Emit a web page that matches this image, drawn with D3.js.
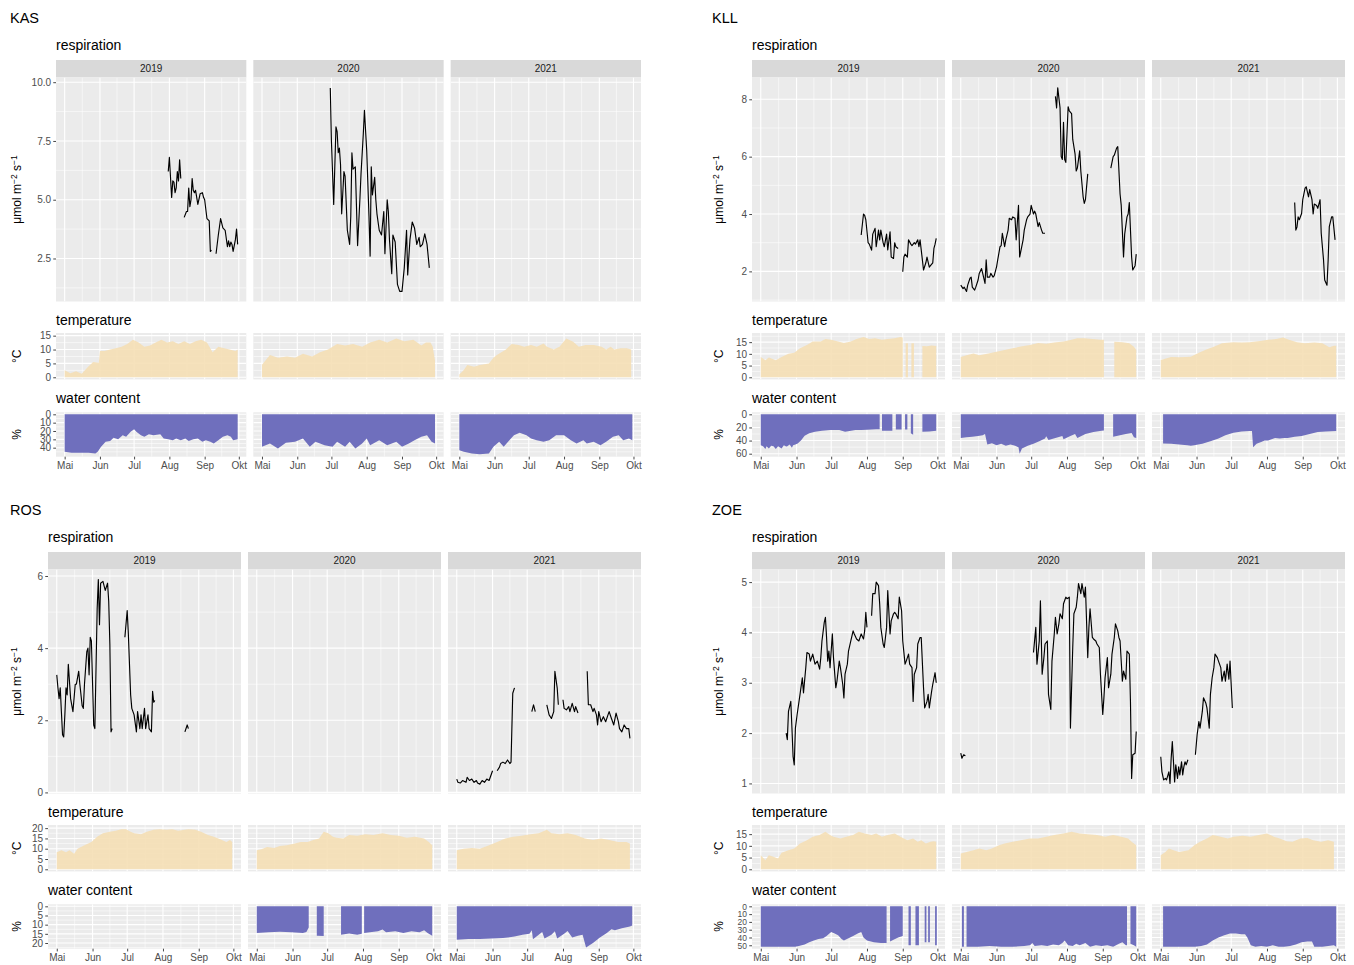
<!DOCTYPE html>
<html><head><meta charset="utf-8">
<script src="https://cdn.jsdelivr.net/npm/d3@7"></script>
<style>
body{margin:0;background:#fff}
svg{display:block}
text{font-family:"Liberation Sans",Arial,Helvetica,sans-serif}
</style>
</head><body>
<svg id="chart" width="1354" height="965"></svg>
<script>
// ---------------- DATA ----------------
// x values are days since 1 May of the facet year; [day, null] marks a gap
const sites = ["KAS","KLL","ROS","ZOE"];
const years = [2019, 2020, 2021];
const monthLabels = ["Mai","Jun","Jul","Aug","Sep","Okt"];
const panelTitles = ["respiration","temperature","water content"];

const kasRespTicks = [2.5,5,7.5,10];
const kllRespTicks = [2,4,6,8];
const rosRespTicks = [0,2,4,6];
const zoeRespTicks = [1,2,3,4,5];
const kasTempTicks = [0,5,10,15];
const kllTempTicks = [0,5,10,15];
const rosTempTicks = [0,5,10,15,20];
const zoeTempTicks = [0,5,10,15];
const kasWaterTicks = [0,10,20,30,40];
const kllWaterTicks = [0,20,40,60];
const rosWaterTicks = [0,5,10,15,20];
const zoeWaterTicks = [0,10,20,30,40,50];

// ---- KAS ----
const kasResp2019 = [[91,6.2],[92,6.8],[94,5.1],[95,5.8],[96,5.75],[97,5.3],[98,5.5],[99,6.2],[100,5.8],[101,6.7],[102,5.9],[103,null],
 [105,4.25],[107,4.5],[108,4.5],[109,5.5],[110,4.7],[111,5.0],[112,5.9],[113,5.4],[114,5.3],[115,5.4],[117,4.8],[119,5.25],[121,5.3],[122,5.1],[123,5.0],[125,4.2],[127,4.1],[128,2.8],[129,2.85],[131,null],
 [133,2.7],[135,3.5],[137,4.2],[139,3.8],[141,3.7],[143,3.0],[144,3.25],[145,3.0],[146,3.2],[147,3.1],[148,2.8],[150,3.3],[151,3.75],[152,3.1]];
const kasResp2020 = [[60,9.75],[61,7.5],[63,4.8],[65,8.1],[66,7.9],[67,7.0],[68,7.2],[69,6.5],[70,4.4],[72,6.2],[73,6.0],[75,3.7],[77,3.1],[78,4.3],[79,7.0],[80,6.3],[82,6.4],[84,3.05],[86,5.0],[87,6.1],[89,7.8],[90,8.8],[92,7.1],[94,4.3],[95,2.6],[96,6.4],[97,5.2],[99,5.95],[100,5.0],[101,4.4],[103,3.7],[105,3.5],[107,4.5],[108,2.7],[110,5.0],[111,4.5],[112,3.3],[114,1.85],[115,3.5],[117,3.2],[119,1.4],[121,1.1],[123,1.1],[125,2.1],[127,3.7],[128,1.8],[130,3.3],[132,4.05],[134,3.8],[136,3.1],[138,3.4],[139,3.0],[141,3.1],[143,3.55],[145,3.1],[147,2.1]];
const kasResp2021 = [];
const kasTemp2019 = [[0,2.5],[5,1.5],[10,2.2],[15,1.3],[20,3.5],[25,5.5],[30,5.2],[31,9.5],[35,9.5],[40,10],[45,10.5],[50,11],[55,12],[60,13.5],[65,12.5],[70,11],[75,11.5],[80,12.5],[85,13.5],[90,12.5],[95,13],[100,12],[105,13],[110,12],[115,13],[120,13.5],[125,12.5],[130,9],[135,11],[140,10.5],[145,10],[150,9.5],[152,10]];
const kasTemp2020 = [[0,4.5],[7,8],[14,7],[22,7.5],[29,7],[36,8.5],[44,7.5],[51,9],[58,10],[66,12],[73,11.5],[80,12],[88,11],[95,12.5],[103,13.5],[110,12.5],[118,14],[125,13],[133,13.5],[140,11.5],[144,12.5],[148,12.5],[150,11],[152,6]];
const kasTemp2021 = [[0,1],[4,2.6],[7,4.4],[13,3.8],[18,4.4],[26,5],[30,7],[33,8],[41,10],[46,12],[52,11.6],[57,11],[63,11.6],[68,11],[74,12.2],[77,11],[83,10],[88,11],[94,14],[100,12.8],[105,11],[111,11.6],[118,11.6],[125,11],[129,10],[133,11],[136,10],[142,10.5],[147,10.5],[151,10]];
const kasWater2019 = [[0,45],[6,46],[14,46],[21,46],[27,47],[29,45],[32,39],[36,33],[40,32],[43,28],[47,30],[51,25],[54,27],[58,21],[61,18],[63,21],[67,25],[70,27],[74,24],[78,25],[84,24],[87,29],[91,30],[95,31],[98,29],[102,31],[106,29],[109,32],[113,30],[117,29],[121,33],[124,31],[128,33],[131,35],[135,31],[139,27],[143,25],[146,27],[148,31],[152,30]];
const kasWater2020 = [[0,39],[7,35],[14,41],[21,34],[29,33],[36,29],[42,39],[47,33],[55,37],[62,39],[66,33],[73,39],[77,33],[82,41],[88,35],[92,29],[95,37],[103,31],[110,37],[118,33],[123,39],[129,35],[134,31],[140,27],[145,25],[149,33],[152,35]];
const kasWater2021 = [[0,43],[4,45],[11,47],[18,48],[26,47],[30,39],[35,33],[39,39],[44,31],[48,25],[53,22],[59,25],[63,29],[68,31],[74,33],[79,31],[85,25],[92,25],[98,31],[103,35],[109,31],[112,35],[118,33],[124,37],[129,33],[135,27],[140,25],[144,31],[149,29],[152,31]];

// ---- KLL ----
const kllResp2019 = [[87,3.27],[89,4.0],[90,3.95],[91,3.8],[93,3.0],[94,2.95],[96,2.74],[97,3.3],[99,3.5],[100,2.86],[102,3.44],[103,3.1],[104,3.44],[106,3.0],[107,2.86],[109,3.3],[110,2.75],[112,3.38],[113,2.5],[115,2.45],[116,3.0],[117,2.86],[119,2.8],[120,null],
 [123,1.99],[124,2.5],[125,2.6],[127,2.5],[128,3.1],[130,2.95],[131,2.9],[133,3.0],[134,2.95],[136,3.1],[137,2.86],[138,3.1],[140,2.4],[141,2.05],[143,2.3],[144,2.5],[146,2.15],[147,2.2],[149,2.3],[150,2.8],[151,2.95],[152,3.15]];
const kllResp2020 = [[0,1.52],[2,1.4],[3,1.45],[5,1.3],[6,1.52],[8,1.76],[9,1.8],[10,1.45],[12,1.35],[13,1.45],[15,1.7],[16,1.93],[18,2.1],[19,1.93],[21,1.58],[22,2.4],[23,1.8],[25,1.8],[26,1.93],[28,1.8],[29,1.85],[31,2.16],[32,2.4],[34,2.86],[35,2.9],[36,3.33],[38,2.86],[39,3.1],[41,3.44],[42,3.85],[44,3.8],[45,3.9],[47,3.85],[48,3.1],[50,4.3],[51,2.5],[52,2.7],[54,3.1],[55,3.44],[57,3.8],[58,3.9],[60,4.0],[61,4.3],[63,4.0],[64,4.1],[65,4.0],[67,3.56],[68,3.7],[70,3.44],[71,3.33],[73,3.33],[74,null],
 [82,8.1],[83,7.7],[84,8.4],[86,7.7],[87,6.0],[88,5.9],[89,7.2],[90,5.9],[91,5.8],[93,7.74],[94,7.6],[96,7.5],[97,6.6],[99,6.1],[100,5.5],[101,5.6],[103,6.2],[104,5.5],[106,4.6],[107,4.37],[108,4.5],[110,5.4],[111,null],
 [130,5.6],[132,6.0],[133,6.05],[135,6.3],[136,6.35],[138,4.7],[139,4.3],[141,2.5],[142,3.3],[144,3.9],[145,4.0],[146,4.4],[148,2.5],[149,2.05],[151,2.2],[152,2.6]];
const kllResp2021 = [[116,4.4],[117,3.44],[118,3.55],[119,3.9],[120,3.8],[122,4.02],[123,4.5],[125,4.9],[126,4.95],[128,4.6],[129,4.85],[131,4.5],[132,4.0],[133,4.35],[135,4.3],[136,4.2],[138,4.5],[139,3.33],[141,2.4],[142,1.7],[144,1.52],[145,2.4],[146,3.56],[148,3.9],[149,3.9],[151,3.1]];
const kllTemp2019 = [[0,8.7],[4,7.3],[7,8.4],[13,7.3],[18,8.7],[24,10],[29,10.5],[34,12.4],[40,13.8],[45,15.3],[52,15.3],[56,16.3],[61,16],[67,15.3],[72,14.6],[78,15.3],[83,16.3],[89,17.2],[94,16.3],[99,16.7],[105,16],[110,16.3],[116,16.7],[121,17.2],[123,17],[123.5,null],[125.5,14.5],[127.5,14.5],[128,null],[130.5,14.5],[132.7,14.5],[133,null],[140,13.4],[144,13.2],[148,13.6],[152,13.4]];
const kllTemp2020 = [[0,8.7],[5,9.4],[11,10.2],[16,9.4],[24,10.2],[31,10.9],[38,11.6],[45,12.4],[52,13.1],[60,13.8],[67,14.6],[74,14.3],[81,14.8],[89,15.3],[96,16],[101,16.7],[107,16.7],[114,16.3],[121,16],[124,16],[125,null],[133,15.2],[140,15],[146,14.5],[150,13],[152,11.6]];
const kllTemp2021 = [[0,7.4],[9,8.7],[16,8.5],[26,8.8],[33,10.5],[40,12],[46,13],[53,14.5],[63,15],[70,14.8],[77,15],[86,15.5],[93,16],[100,16.3],[106,17],[111,16],[118,15],[125,14.5],[133,14.8],[140,14.5],[146,12.8],[150,13.5],[152,13.5]];
const kllWater2019 = [[0,47],[2,48.5],[4,53],[5,48.5],[7,52],[9,48],[11,48.5],[13,53],[15,48.5],[17,51],[18,52],[20,47],[22,49],[23,48.5],[25,46],[27,50.8],[28,47],[30,46],[32,44.6],[35,39.5],[38,32.8],[42,29],[47,26.7],[53,25],[60,24],[63,24],[68,24],[73,26.7],[77,25.6],[82,24],[87,24],[92,23.5],[100,22.6],[103,22.6],[104,null],[105,25],[114,25],[115,null],[117,23],[122,23],[123,null],[125,23],[127,23],[128,null],[130,29],[132,31],[133,null],[140,26.7],[146,26],[152,25]];
const kllWater2020 = [[0,36],[5,35],[10,34],[15,33],[19,32],[21,30],[23,46],[27,44],[31,47],[35,45],[39,48],[43,46],[47,48],[50,50],[51,60],[53,52],[58,48],[63,45],[68,41],[73,37],[74,33.5],[76,39],[82,36],[88,33],[89,38],[95,33],[99,30],[101,36],[108,30],[115,27],[122,25],[124,24.5],[125,null],[132,34],[135,33],[143,30],[148,28.5],[150,35],[152,36]];
const kllWater2021 = [[2,44.5],[9,45],[16,46],[23,47],[26,48],[29,47],[36,45],[43,41],[50,37],[56,32],[63,28],[70,26],[77,25.5],[79,25.5],[80,50],[83,45],[87,42],[90,40],[93,40],[96,38],[99,36],[103,37],[107,36],[110,36],[116,34],[122,33],[129,30],[136,27],[143,26],[152,25.5]];

// ---- ROS ----
const rosResp2019 = [[0,3.26],[1,2.9],[2,2.6],[3,2.9],[4,2.24],[5,1.6],[6,1.54],[7,2.15],[8,2.9],[9,2.7],[10,3.55],[12,2.6],[14,2.24],[16,3.0],[17,3.0],[19,3.36],[20,3.0],[22,2.4],[23,2.33],[24,3.0],[26,3.9],[27,4.0],[28,3.26],[29,4.3],[30,4.2],[32,1.87],[33,1.77],[35,5.1],[36,5.9],[37,4.65],[38,5.8],[40,5.85],[42,5.6],[44,5.8],[45,5.3],[46,4.1],[47,1.68],[48,1.77],[50,null],
 [59,4.3],[61,5.04],[62,4.4],[64,2.7],[65,2.33],[67,2.15],[69,1.68],[70,2.24],[72,1.77],[73,2.15],[74,1.77],[76,2.33],[77,1.77],[79,2.15],[80,1.77],[82,1.68],[83,2.8],[84,2.5],[85,2.55],[86,null],
 [111,1.68],[113,1.87],[114,1.77]];
const rosResp2020 = [];
const rosResp2021 = [[0,0.37],[1,0.28],[3,0.26],[5,0.33],[8,0.28],[9,0.42],[11,0.33],[13,0.37],[15,0.28],[17,0.33],[18,0.26],[20,0.23],[22,0.33],[24,0.28],[26,0.37],[28,0.33],[29,0.42],[31,0.6],[32,null],
 [35,0.6],[37,0.7],[38,0.8],[40,0.84],[42,0.8],[44,0.9],[46,0.8],[47,0.84],[48.5,2.75],[50,2.9],[51,null],
 [65,2.24],[66.5,2.43],[68,2.24],[69,null],
 [78,2.43],[80,2.15],[82,2.05],[84,2.24],[85,3.36],[87,2.9],[88,2.43],[89,null],
 [92,2.57],[93,2.33],[95,2.29],[97,2.38],[98,2.24],[100,2.47],[102,2.24],[103,2.38],[105,2.2],[106,null],
 [113,3.36],[114,2.43],[116,2.43],[118,2.24],[119,2.33],[121,2.15],[122,1.87],[123,2.24],[125,1.96],[127,2.1],[129,1.96],[131,2.15],[132,2.24],[134,2.05],[136,1.87],[138,2.2],[140,1.96],[141,1.77],[143,1.68],[145,1.87],[147,1.77],[149,1.77],[150,1.5]];
const rosTemp2019 = [[0,8.3],[4,9.2],[8,8.3],[11,9.2],[15,7.5],[18,10],[24,11.7],[30,13.3],[35,15.8],[40,17.5],[46,18.3],[51,18.7],[56,19.5],[60,19.5],[64,18.3],[67,17.5],[73,17],[78,18.3],[84,19.2],[89,19.5],[95,19.2],[100,19.5],[105,18.7],[111,19.2],[114,19.5],[120,19.2],[125,18.3],[131,16.7],[136,15.8],[140,15],[143,14.2],[147,13.3],[150,14.2],[152,13.3]];
const rosTemp2020 = [[0,9.2],[4,9.7],[9,10.8],[15,10.3],[20,11.3],[26,11.7],[33,12.5],[38,13.3],[44,13.3],[49,14.2],[54,15],[58,18.3],[62,17.5],[66,15.8],[69,15.3],[75,15],[80,16.7],[87,16.3],[94,17],[101,16.7],[109,17.5],[116,16.7],[123,16.3],[130,15.3],[137,15.8],[145,15],[149,13.3],[152,11.7]];
const rosTemp2021 = [[0,9.2],[6,10],[13,10.3],[20,10],[28,11.7],[35,13.3],[42,15],[49,15.8],[56,16.3],[64,17],[71,17.5],[78,19.2],[82,17.5],[89,17],[96,17.5],[103,16.7],[111,15],[118,14.2],[125,15],[132,14.2],[140,13.3],[147,13.3],[150,12.5]];
const rosWater2019 = [];
const rosWater2020 = [[0,14.5],[10,14.2],[20,13.8],[30,14.2],[40,14.5],[43,14],[45,11.5],[46,null],[52,16],[58,16.2],[59,null],[73,15.5],[80,14.8],[87,15.5],[91,15],[92,null],[93,14.5],[98,14.2],[105,13.6],[109,12.7],[112,14.2],[120,13.6],[127,14.5],[134,13.6],[141,14.2],[145,13],[148,14.5],[152,16]];
const rosWater2021 = [[0,18.2],[10,17.8],[20,17.8],[30,17.5],[40,17.3],[50,16.5],[57,15.5],[63,15],[65,13],[66,18],[71,15.5],[74,14],[76,17.5],[82,15.5],[85,13.6],[87,17.5],[93,15],[96,13.5],[100,17],[105,16],[109,15.5],[112,22.5],[118,20],[124,17],[130,14.5],[134,12.5],[137,13],[143,12],[150,11],[152,10.5]];

// ---- ZOE ----
const zoeResp2019 = [[22,2.0],[23,1.87],[24,2.43],[26,2.63],[27,2.1],[28,1.53],[29,1.37],[30,2.1],[31.5,2.37],[34,2.77],[36,3.1],[37,2.8],[39,3.3],[40,3.6],[42,3.57],[43,3.43],[45,3.57],[47,3.37],[49,3.43],[51,3.27],[52,3.5],[53,3.83],[55,4.2],[56,4.3],[57,3.9],[58,3.43],[59,3.63],[60,3.3],[62,3.97],[63,3.5],[65,2.9],[66,3.03],[68,3.43],[69,3.3],[71,2.97],[72,2.7],[73,3.17],[75,3.37],[76,3.63],[78,3.83],[80,4.03],[81,3.97],[83,3.87],[85,3.83],[87,3.97],[89,3.87],[90,4.03],[91,4.4],[92,4.1],[93,null],
 [96,4.33],[97,4.77],[99,4.77],[100,5.0],[102,4.93],[103,4.57],[104,4.1],[106,3.77],[107,3.7],[109,4.1],[110,4.83],[112,3.97],[113,4.23],[115,4.37],[116,4.4],[117,4.37],[119,4.27],[120,4.7],[122,4.43],[123,3.83],[125,3.37],[126,3.43],[128,3.57],[129,3.37],[131,3.3],[132,2.63],[133,3.17],[135,3.3],[136,3.77],[138,3.9],[139,3.9],[141,2.9],[142,2.5],[144,2.63],[145,2.77],[146,2.5],[148,2.83],[149,2.97],[151,3.2],[152,3.0]];
const zoeResp2020 = [[0,1.6],[1,1.5],[2.5,1.57],[4,1.55],[5,null],
 [63,3.6],[65,4.1],[66,3.37],[68,3.83],[69,4.63],[70.5,3.17],[72,3.5],[73,3.77],[75,3.83],[76,2.77],[78,2.47],[79,3.43],[81,3.97],[82,4.3],[83.5,3.97],[85,4.17],[86,4.37],[88,4.27],[89,4.57],[91,4.7],[92,4.67],[94,4.7],[95,2.1],[97,3.7],[98,4.37],[100,4.5],[101,4.7],[102,4.97],[104,4.77],[105,4.97],[107,4.7],[108,4.9],[110,3.5],[111,4.1],[112,4.47],[114,3.9],[115,3.87],[117,3.83],[118,3.77],[120,3.7],[121,3.17],[123,2.37],[124,2.7],[125,3.1],[127,3.5],[128,2.9],[130,3.17],[131,3.57],[133,3.9],[134,4.17],[136,4.03],[137,3.9],[138,3.83],[140,3.03],[141,3.23],[143,3.07],[144,3.63],[146,3.57],[147,2.63],[148,1.1],[149,1.57],[151,1.6],[152,2.03]];
const zoeResp2021 = [[0,1.53],[1,1.23],[2.5,1.07],[4,1.1],[5,1.07],[7,1.23],[8,1.0],[9,1.5],[10,1.83],[11,1.43],[12,1.03],[13,1.37],[14.5,1.1],[15.5,1.33],[16.5,1.17],[18,1.43],[19,1.17],[20,1.33],[21,1.43],[22,1.37],[23.5,1.47],[24,null],
 [30,1.57],[31.5,1.97],[33,2.23],[34,2.1],[36,2.43],[37,2.7],[39,2.6],[40,2.5],[42,2.1],[43,2.77],[44.5,3.1],[46,3.3],[47,3.57],[49,3.5],[50,3.43],[52,3.3],[53,3.03],[55,3.23],[56,3.03],[57.5,3.37],[59,3.07],[60,3.43],[62,2.5]];
const zoeTemp2019 = [[0,6],[4,3.9],[7,6],[11,5.3],[15,4.6],[18,7.1],[24,8.1],[29,8.9],[34,11],[40,12.4],[45,13.9],[51,14.6],[56,16],[60,14.6],[63,13.9],[69,13.1],[74,13.9],[80,14.6],[85,16],[90,15.3],[96,14.6],[100,15.3],[105,13.9],[110,14.6],[116,15.3],[121,13.9],[127,12.4],[132,13.1],[136,11.7],[139,12.4],[143,11],[147,11.7],[150,12],[152,11.7]];
const zoeTemp2020 = [[0,6.7],[5,7.4],[11,8.1],[16,8.9],[22,8.1],[27,8.9],[33,10.3],[38,11],[45,11.7],[52,12.4],[60,13.1],[67,13.1],[74,13.9],[81,14.6],[89,15.3],[96,16],[103,15.3],[110,14.9],[118,14.6],[125,13.9],[132,14.6],[139,13.9],[145,13.1],[148,11.7],[152,10.3]];
const zoeTemp2021 = [[0,6],[4,7.4],[7,8.9],[11,8.1],[16,7.4],[24,8.1],[29,10.3],[34,11.7],[40,13.1],[45,14.6],[52,13.9],[58,13.1],[63,13.9],[71,14.3],[78,13.9],[85,14.6],[92,15.3],[98,13.9],[103,13.1],[109,12],[114,11.7],[121,13.1],[127,13.3],[132,12.4],[139,11.7],[145,12.4],[150,11.7]];
const zoeWater2019 = [[0,52],[10,52],[20,52],[30,52],[33,51],[38,49],[42,46],[46,44],[50,42],[54,41],[57,38],[61,33],[64,35],[67,37],[70,42],[72,44],[76,41],[80,38],[84,35],[87,33],[89,40],[92,44],[98,46],[104,47],[109,47],[110,null],[112,45],[115,43],[119,40],[123,38],[124,null],[128,50],[130,50],[131,null],[134,50],[137,50],[138,null],[142,46],[143.5,46],[144,null],[145,46],[146.5,46],[147,null],[151,50],[152.5,50]];
const zoeWater2020 = [[1,52],[2.7,52],[3,null],[5,52],[15,52],[25,51],[35,52],[45,52],[55,51],[60,50],[62,47],[64,51],[70,50],[75,51],[80,49],[85,50],[88,47],[90,44],[93,50],[97,51],[100,48],[103,50],[108,47],[112,52],[117,50],[122,51],[127,50],[132,52],[137,48],[140,46],[143,50],[144,50],[145,null],[147,48],[150,50],[152,52]];
const zoeWater2021 = [[2,52],[10,52],[20,52],[30,52],[35,51],[40,49],[45,44],[50,40],[55,37],[60,35],[65,35],[70,36],[73,36],[75,40],[78,50],[82,52],[87,51],[92,52],[97,50],[102,52],[107,52],[112,51],[117,49],[122,46],[127,45],[131,45],[133,52],[140,52],[145,51],[150,50],[152,52]];

// ---------------- CONFIG ----------------
const respData = {KAS:[kasResp2019,kasResp2020,kasResp2021], KLL:[kllResp2019,kllResp2020,kllResp2021], ROS:[rosResp2019,rosResp2020,rosResp2021], ZOE:[zoeResp2019,zoeResp2020,zoeResp2021]};
const tempData = {KAS:[kasTemp2019,kasTemp2020,kasTemp2021], KLL:[kllTemp2019,kllTemp2020,kllTemp2021], ROS:[rosTemp2019,rosTemp2020,rosTemp2021], ZOE:[zoeTemp2019,zoeTemp2020,zoeTemp2021]};
const waterData = {KAS:[kasWater2019,kasWater2020,kasWater2021], KLL:[kllWater2019,kllWater2020,kllWater2021], ROS:[rosWater2019,rosWater2020,rosWater2021], ZOE:[zoeWater2019,zoeWater2020,zoeWater2021]};
const respTicks = {KAS:kasRespTicks, KLL:kllRespTicks, ROS:rosRespTicks, ZOE:zoeRespTicks};
const tempTicks = {KAS:kasTempTicks, KLL:kllTempTicks, ROS:rosTempTicks, ZOE:zoeTempTicks};
const waterTicks = {KAS:kasWaterTicks, KLL:kllWaterTicks, ROS:rosWaterTicks, ZOE:zoeWaterTicks};

const respDomain = {KAS:[0.67,10.2], KLL:[0.95,8.76], ROS:[-0.03,6.18], ZOE:[0.8,5.25]};
const tempMax = {KAS:15.2, KLL:18, ROS:20.5, ZOE:18};
const waterMax = {KAS:48.4, KLL:61.5, ROS:22, ZOE:51.8};

const layout = {
  KAS:{oy:0,   titleX:10,  axX:17,  left:56,  width:190.33, gap:7},
  KLL:{oy:0,   titleX:712, axX:719, left:752, width:193,    gap:7},
  ROS:{oy:492, titleX:10,  axX:17,  left:48,  width:193,    gap:7},
  ZOE:{oy:492, titleX:712, axX:719, left:752, width:193,    gap:7}
};
const rows = {title:23, respLabel:50, strip:[60,77.5], resp:[77.5,301.5], tempLabel:325, temp:[333,379.4], waterLabel:403, water:[412.3,456.7]};

const C = {panel:"#EBEBEB", strip:"#D9D9D9", grid:"#FFFFFF", tick:"#333333", tickText:"#4D4D4D", text:"#1A1A1A", temp:"#F5DEB3", water:"#6F6FBD"};
const tickFont = "10px";

// ---------------- DRAW ----------------
const svg = d3.select("#chart");
const toDate = (yr, d) => new Date(Date.UTC(yr, 4, 1) + d * 864e5);
let clipId = 0;

function minorsOf(ticks, domain){
  const s = ticks[1] - ticks[0];
  const lo = Math.min(domain[0], domain[1]), hi = Math.max(domain[0], domain[1]);
  const out = [];
  for (let v = ticks[0] - s/2; v <= hi; v += s) if (v >= lo) out.push(v);
  return out;
}

function drawPanel(g, x, y, top, bottom, yTicks, monthTicks){
  const [x0, x1] = x.range();
  const id = "clip" + (clipId++);
  g.append("clipPath").attr("id", id).append("rect").attr("x", x0).attr("y", top).attr("width", x1 - x0).attr("height", bottom - top);
  g.append("rect").attr("x", x0).attr("y", top).attr("width", x1 - x0).attr("height", bottom - top).attr("fill", C.panel);
  const grid = g.append("g").attr("clip-path", `url(#${id})`);
  const xMinor = d3.pairs(monthTicks).map(([a, b]) => new Date((+a + +b) / 2));
  const yMinor = minorsOf(yTicks, y.domain());
  grid.selectAll(".ymn").data(yMinor).join("line").attr("x1", x0).attr("x2", x1).attr("y1", d => y(d)).attr("y2", d => y(d)).attr("stroke", C.grid).attr("stroke-width", 0.55);
  grid.selectAll(".xmn").data(xMinor).join("line").attr("x1", d => x(d)).attr("x2", d => x(d)).attr("y1", top).attr("y2", bottom).attr("stroke", C.grid).attr("stroke-width", 0.55);
  grid.selectAll(".ymj").data(yTicks).join("line").attr("x1", x0).attr("x2", x1).attr("y1", d => y(d)).attr("y2", d => y(d)).attr("stroke", C.grid).attr("stroke-width", 1.1);
  grid.selectAll(".xmj").data(monthTicks).join("line").attr("x1", d => x(d)).attr("x2", d => x(d)).attr("y1", top).attr("y2", bottom).attr("stroke", C.grid).attr("stroke-width", 1.1);
  return g.append("g").attr("clip-path", `url(#${id})`);
}

function styleAxis(ax, fs){
  ax.select(".domain").remove();
  ax.selectAll(".tick line").attr("stroke", C.tick).attr("stroke-width", 0.9);
  ax.selectAll(".tick text").attr("fill", C.tickText).attr("font-size", fs || tickFont).attr("font-family", '"Liberation Sans",Arial,sans-serif');
  ax.attr("font-size", null).attr("font-family", null);
}

function drawSite(site){
  const L = layout[site];
  const g = svg.append("g").attr("transform", `translate(0,${L.oy})`);
  g.append("text").attr("x", L.titleX).attr("y", rows.title).attr("font-size", "14.5px").attr("fill", "#000").text(site);
  g.append("text").attr("x", L.left).attr("y", rows.respLabel).attr("font-size", "14px").attr("fill", "#000").text(panelTitles[0]);
  g.append("text").attr("x", L.left).attr("y", rows.tempLabel).attr("font-size", "14px").attr("fill", "#000").text(panelTitles[1]);
  g.append("text").attr("x", L.left).attr("y", rows.waterLabel).attr("font-size", "14px").attr("fill", "#000").text(panelTitles[2]);

  const yResp = d3.scaleLinear().domain(respDomain[site]).range([rows.resp[1], rows.resp[0]]);
  const tM = tempMax[site];
  const yTemp = d3.scaleLinear().domain([-0.05 * tM, 1.05 * tM]).range([rows.temp[1], rows.temp[0]]);
  const wM = waterMax[site];
  const yWater = d3.scaleLinear().domain([-0.05 * wM, 1.05 * wM]).range([rows.water[0], rows.water[1]]); // reversed: 0 at top

  years.forEach((yr, i) => {
    const x0 = L.left + i * (L.width + L.gap), x1 = x0 + L.width;
    const x = d3.scaleUtc().domain([toDate(yr, -7.6), toDate(yr, 159.6)]).range([x0, x1]);
    const monthTicks = d3.utcMonth.range(toDate(yr, 0), toDate(yr, 154));

    // strip
    g.append("rect").attr("x", x0).attr("y", rows.strip[0]).attr("width", L.width).attr("height", rows.strip[1] - rows.strip[0]).attr("fill", C.strip);
    g.append("text").attr("x", (x0 + x1) / 2).attr("y", (rows.strip[0] + rows.strip[1]) / 2).attr("dy", "0.35em").attr("text-anchor", "middle").attr("font-size", "10px").attr("fill", C.text).text(yr);

    // respiration
    const pr = drawPanel(g, x, yResp, rows.resp[0], rows.resp[1], respTicks[site], monthTicks);
    const line = d3.line().defined(d => d[1] !== null).x(d => x(toDate(yr, d[0]))).y(d => yResp(d[1]));
    pr.append("path").datum(respData[site][i]).attr("d", line).attr("fill", "none").attr("stroke", "#000").attr("stroke-width", 1.15).attr("stroke-linejoin", "round");

    // temperature
    const pt = drawPanel(g, x, yTemp, rows.temp[0], rows.temp[1], tempTicks[site], monthTicks);
    const tArea = d3.area().defined(d => d[1] !== null).x(d => x(toDate(yr, d[0]))).y0(yTemp(0)).y1(d => yTemp(d[1]));
    pt.append("path").datum(tempData[site][i]).attr("d", tArea).attr("fill", C.temp).attr("fill-opacity", 0.88);

    // water content
    const pw = drawPanel(g, x, yWater, rows.water[0], rows.water[1], waterTicks[site], monthTicks);
    const wArea = d3.area().defined(d => d[1] !== null).x(d => x(toDate(yr, d[0]))).y0(yWater(0)).y1(d => yWater(d[1]));
    pw.append("path").datum(waterData[site][i]).attr("d", wArea).attr("fill", C.water);

    // x axis (bottom row only)
    const ax = g.append("g").attr("transform", `translate(0,${rows.water[1]})`)
      .call(d3.axisBottom(x).tickValues(monthTicks).tickFormat((d, k) => monthLabels[k]).tickSize(2.75).tickPadding(2));
    styleAxis(ax);

    if (i === 0) {
      const fmt = site === "KAS" ? d3.format(".1f") : d3.format("d");
      const crowded = waterTicks[site].length > 5;
      [[yResp, respTicks[site], fmt, tickFont], [yTemp, tempTicks[site], d3.format("d"), tickFont], [yWater, waterTicks[site], d3.format("d"), crowded ? "8.5px" : tickFont]].forEach(([sc, tv, f, fs]) => {
        const ay = g.append("g").attr("transform", `translate(${x0},0)`)
          .call(d3.axisLeft(sc).tickValues(tv).tickFormat(f).tickSize(2.75).tickPadding(2.2));
        styleAxis(ay, fs);
      });
    }
  });

  // axis titles
  const cyR = (rows.resp[0] + rows.resp[1]) / 2;
  const t = g.append("text").attr("transform", `translate(${L.axX},${cyR}) rotate(-90)`).attr("text-anchor", "middle").attr("dy", "0.35em").attr("font-size", "12px").attr("fill", "#000");
  t.append("tspan").text("μmol m");
  t.append("tspan").attr("font-size", "8.5px").attr("dy", -4.5).text("−2");
  t.append("tspan").attr("dy", 4.5).text(" s");
  t.append("tspan").attr("font-size", "8.5px").attr("dy", -4.5).text("−1");
  g.append("text").attr("transform", `translate(${L.axX},${(rows.temp[0] + rows.temp[1]) / 2}) rotate(-90)`).attr("text-anchor", "middle").attr("dy", "0.35em").attr("font-size", "12px").attr("fill", "#000").text("°C");
  g.append("text").attr("transform", `translate(${L.axX},${(rows.water[0] + rows.water[1]) / 2}) rotate(-90)`).attr("text-anchor", "middle").attr("dy", "0.35em").attr("font-size", "12px").attr("fill", "#000").text("%");
}

sites.forEach(drawSite);
</script>
</body></html>
